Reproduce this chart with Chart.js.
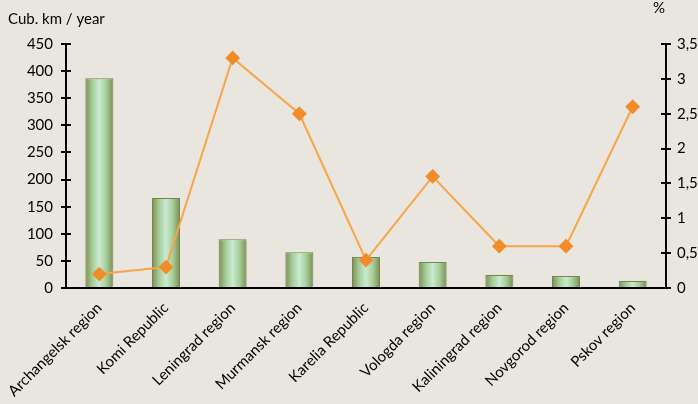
<!DOCTYPE html>
<html>
<head>
<meta charset="utf-8">
<script src="https://cdn.jsdelivr.net/npm/chart.js@4.4.1/dist/chart.umd.min.js"></script>
<style>
  html, body { margin: 0; padding: 0; background: #e9e5df; }
  #wrap { width: 698px; height: 404px; }
</style>
</head>
<body>
<div id="wrap"><canvas id="chart" width="698" height="404"></canvas></div>
<script>
// data
const regions = ['Archangelsk region', 'Komi Republic', 'Leningrad region', 'Murmansk region',
    'Karelia Republic', 'Vologda region', 'Kaliningrad region', 'Novgorod region', 'Pskov region'];
const volume = [387, 166, 90, 66, 57, 48, 24, 22, 13];   // Cub. km / year
const share = [0.2, 0.3, 3.3, 2.5, 0.4, 1.6, 0.6, 0.6, 2.6]; // %

const leftTitle = 'Cub. km / year';
const rightTitle = '%';
const FONT = 'Lato, "Open Sans", sans-serif';
const FSIZE = 15;

const barFill = function(ctx) {
    const chart = ctx.chart;
    const x = chart.scales.x;
    if (!chart.chartArea || !x || ctx.dataIndex === undefined) return '#a9cf9e';
    const cx = x.getPixelForValue(ctx.dataIndex);
    const half = (x.width / regions.length) * 0.42 / 2;
    const g = chart.ctx.createLinearGradient(cx - half, 0, cx + half, 0);
    g.addColorStop(0, '#7a8c50');
    g.addColorStop(0.25, '#a6cc98');
    g.addColorStop(0.5, '#c9ebd2');
    g.addColorStop(0.75, '#a6cc98');
    g.addColorStop(1, '#7a8c50');
    return g;
};

// axis titles + tick marks crossing the axis line
const extras = {
    id: 'extras',
    afterDraw(chart) {
        const c = chart.ctx;
        const area = chart.chartArea;
        c.save();
        c.strokeStyle = '#000';
        c.lineWidth = 2;
        ['y', 'y1'].forEach(id => {
            const s = chart.scales[id];
            const x0 = id === 'y' ? area.left : area.right;
            const dir = id === 'y' ? 1 : -1;
            s.ticks.forEach(t => {
                const py = Math.round(s.getPixelForValue(t.value));
                c.beginPath();
                c.moveTo(x0, py);
                c.lineTo(x0 + dir * 5, py);
                c.stroke();
            });
        });
        c.fillStyle = '#000';
        c.font = FSIZE + 'px ' + FONT;
        c.textBaseline = 'middle';
        c.textAlign = 'left';
        c.fillText(leftTitle, 8, 19);
        c.textAlign = 'center';
        c.fillText(rightTitle, 659, 8);
        c.restore();
    }
};

new Chart(document.getElementById('chart'), {
    data: {
        labels: regions,
        datasets: [{
            type: 'line',
            data: share,
            yAxisID: 'y1',
            borderColor: '#f7a547',
            borderWidth: 2,
            pointStyle: 'rectRot',
            pointRadius: 6,
            pointBackgroundColor: '#f28c28',
            pointBorderColor: '#f28c28',
            tension: 0,
            order: 0
        }, {
            type: 'bar',
            data: volume,
            yAxisID: 'y',
            backgroundColor: barFill,
            borderColor: '#76864a',
            borderWidth: 1,
            categoryPercentage: 0.42,
            barPercentage: 1,
            order: 1
        }]
    },
    options: {
        responsive: false,
        animation: false,
        layout: { padding: { top: 44, right: 0, left: 0, bottom: 0 } },
        plugins: { legend: { display: false }, tooltip: { enabled: false } },
        scales: {
            x: {
                grid: { display: false },
                border: { color: '#000', width: 2 },
                ticks: { color: '#000', font: { family: FONT, size: FSIZE }, minRotation: 45, maxRotation: 45, padding: 3 },
                afterFit: s => { s.height = 116; s.paddingLeft = 0; s.paddingRight = 0; }
            },
            y: {
                position: 'left',
                min: 0, max: 450,
                ticks: { stepSize: 50, color: '#000', font: { family: FONT, size: FSIZE }, padding: 8 },
                grid: { drawOnChartArea: false, color: '#000', lineWidth: 2, tickLength: 5 },
                border: { color: '#000', width: 2 },
                afterFit: s => { s.width = 66; s.paddingTop = 0; s.paddingBottom = 0; }
            },
            y1: {
                position: 'right',
                min: 0, max: 3.5,
                ticks: {
                    stepSize: 0.5, color: '#000', font: { family: FONT, size: FSIZE }, padding: 6,
                    callback: v => String(v).replace('.', ',')
                },
                grid: { drawOnChartArea: false, color: '#000', lineWidth: 2, tickLength: 5 },
                border: { color: '#000', width: 2 },
                afterFit: s => { s.width = 32; s.paddingTop = 0; s.paddingBottom = 0; }
            }
        }
    },
    plugins: [extras]
});
</script>
</body>
</html>
